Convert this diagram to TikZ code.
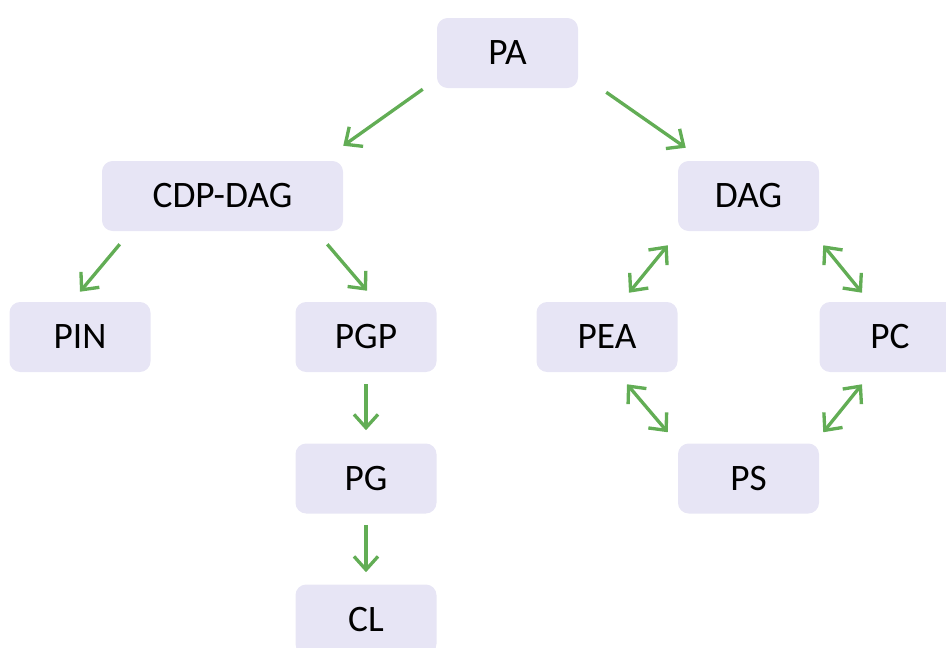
\documentclass[tikz,border=0pt]{standalone}
\usepackage{fontspec}
\setmainfont{Carlito}
\usetikzlibrary{arrows.meta}
\definecolor{boxfill}{HTML}{E7E5F5}
\definecolor{arrgreen}{HTML}{62AD55}
\tikzset{
  box/.style={fill=boxfill, rounded corners=8pt, minimum width=105.75pt, minimum height=52.5pt, inner sep=0pt, font=\fontsize{28}{33}\selectfont, text=black},
  wbox/.style={box, minimum width=180.75pt},
  tip/.style={Straight Barb[length=10pt, width=18pt, line width=2.5pt]},
  arr/.style={draw=arrgreen, line width=2.5pt, -{Straight Barb[length=10pt, width=18pt, line width=2.5pt]}},
  darr/.style={draw=arrgreen, line width=2.5pt, {Straight Barb[length=10pt, width=18pt, line width=2.5pt]}-{Straight Barb[length=10pt, width=18pt, line width=2.5pt]}}
}
\begin{document}
\begin{tikzpicture}[x=0.75pt, y=-0.75pt]
\useasboundingbox (0,0) rectangle (946,647);
\clip (0,0) rectangle (946,647);
\node[box] (PA) at (507.5,53) {PA};
\node[wbox] (CDP) at (222.5,196) {CDP-DAG};
\node[box] (DAG) at (748.5,196) {DAG};
\node[box] (PIN) at (80,337) {PIN};
\node[box] (PGP) at (366,337) {PGP};
\node[box] (PEA) at (607,337) {PEA};
\node[box] (PC) at (890,337) {PC};
\node[box] (PG) at (366,478.5) {PG};
\node[box] (PS) at (748.5,478.5) {PS};
\node[box] (CL) at (366,619.5) {CL};

\draw[arr] ([shift={(-14,1)}]PA.south west) -- ([shift={(0,-15)}]CDP.north east);
\draw[arr] ([shift={(28,4)}]PA.south east) -- ([shift={(8,-13)}]DAG.north west);
\draw[arr] ([shift={(18,13)}]CDP.south west) -- ([shift={(0,-10)}]PIN.north);
\draw[arr] ([shift={(-16,13)}]CDP.south east) -- ([shift={(1,-11)}]PGP.north);
\draw[darr] ([shift={(-10,14)}]DAG.south west) -- ([shift={(22,-9)}]PEA.north);
\draw[darr] ([shift={(4,14)}]DAG.south east) -- ([shift={(-28,-9)}]PC.north);
\draw[arr] ([shift={(0,12)}]PGP.south) -- ([shift={(0,-13)}]PG.north);
\draw[arr] ([shift={(0,11)}]PG.south) -- ([shift={(0,-12)}]CL.north);
\draw[darr] ([shift={(20,12)}]PEA.south) -- ([shift={(-10,-11)}]PS.north west);
\draw[darr] ([shift={(-28,12)}]PC.south) -- ([shift={(4,-11)}]PS.north east);
\end{tikzpicture}
\end{document}
